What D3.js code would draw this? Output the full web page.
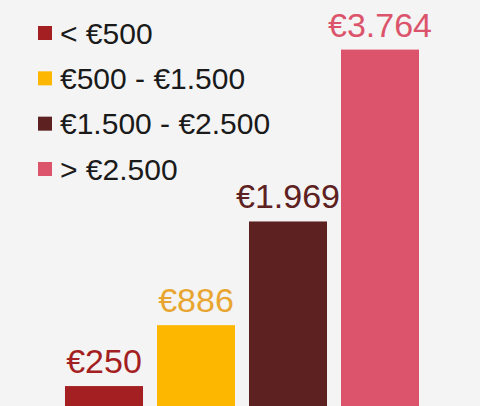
<!DOCTYPE html>
<html><head><meta charset="utf-8">
<script src="https://cdn.jsdelivr.net/npm/d3@7"></script>
<style>html,body{margin:0;padding:0;background:#f4f4f4;}svg{display:block;}</style>
</head><body>
<svg id="c" width="480" height="406"></svg>
<script>
const categories = ["< €500", "€500 - €1.500", "€1.500 - €2.500", "> €2.500"];
const values = [250, 886, 1969, 3764];
const valueLabels = ["€250", "€886", "€1.969", "€3.764"];
const colors = ["#a31f22", "#fdb700", "#5e2121", "#dc546c"];
const labelColors = ["#a31f22", "#e8a631", "#5e2121", "#dc546c"];

const svg = d3.select("#c");
svg.append("rect").attr("width",480).attr("height",406).attr("fill","#f4f4f4");

const x = d3.scaleBand().domain(categories).range([58, 426]).paddingInner(0.152).paddingOuter(0.076);
const y = d3.scaleLinear().domain([0, 4000]).range([410, 27]);

svg.selectAll("rect.bar").data(values).join("rect")
  .attr("class","bar")
  .attr("x",(d,i)=>x(categories[i]))
  .attr("y",d=>y(d))
  .attr("width",x.bandwidth())
  .attr("height",d=>y(0)-y(d))
  .attr("fill",(d,i)=>colors[i]);

svg.selectAll("text.val").data(values).join("text")
  .attr("class","val")
  .attr("x",(d,i)=>x(categories[i])+x.bandwidth()/2)
  .attr("y",d=>y(d)-13)
  .attr("text-anchor","middle")
  .attr("font-family","Liberation Sans, Arial, sans-serif")
  .attr("font-size",34)
  .attr("fill",(d,i)=>labelColors[i])
  .text((d,i)=>valueLabels[i]);

const leg = svg.append("g");
const rowY = d3.scalePoint().domain(categories).range([33, 169]);
categories.forEach((c,i)=>{
  leg.append("rect").attr("x",38).attr("y",rowY(c)-7).attr("width",14).attr("height",14).attr("fill",colors[i]);
  leg.append("text").attr("x",60).attr("y",rowY(c)+10.5)
    .attr("font-family","Liberation Sans, Arial, sans-serif")
    .attr("font-size",30).attr("fill","#1a1a1a").text(c);
});
</script>
</body></html>
